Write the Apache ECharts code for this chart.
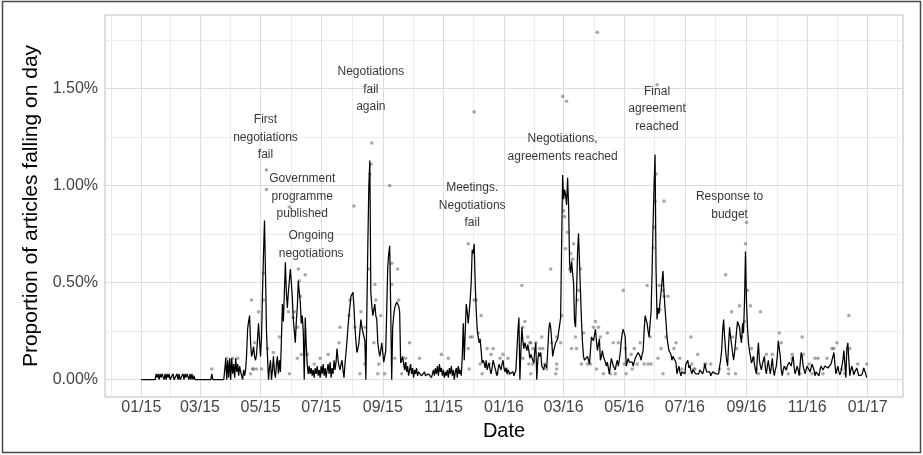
<!DOCTYPE html>
<html>
<head>
<meta charset="utf-8">
<title>Proportion of articles falling on day</title>
<script src="https://cdn.jsdelivr.net/npm/echarts@6/dist/echarts.min.js"></script>
<style>
	html,body{margin:0;padding:0;background:#fff;}
	#main{width:923px;height:455px;}
</style>
</head>
<body>
<div id="main"></div>
<script type="text/javascript">
// x values are days counted from 2015-01-01
var tickDays = [0, 59, 120, 181, 243, 304, 365, 425, 486, 547, 609, 670, 731];
var tickLabels = ['01/15', '03/15', '05/15', '07/15', '09/15', '11/15', '01/16', '03/16', '05/16', '07/16', '09/16', '11/16', '01/17'];
var yTicks = [0, 0.5, 1, 1.5];
var yTickLabels = ['0.00%', '0.50%', '1.00%', '1.50%'];

// smoothed daily share (%), [day, value]
var smoothLine = [
	[0,0],[14,0],[15,0.03],[16,0.01],[17,0.03],[18,0],[19,0.03],[20,0.01],[21,0.03],[22,0.03],[23,0],[24,0.03],[25,0],[26,0.03],[27,0.01],[28,0.03],[29,0],[31,0],[32,0.03],[33,0],[35,0],[36,0.03],[37,0],[38,0.03],[39,0],[41,0],[42,0.03],[43,0],[44,0.03],[45,0.01],[46,0.03],[47,0.03],[48,0],[49,0.03],[50,0],[51,0.03],[52,0],[53,0.02],[54,0],
	[70,0],[71,0.03],[72,0],[83,0],[84,0.05],[85,0.11],[86,0],[87,0.1],[88,0.01],[89,0.11],[90,0],[91,0.11],[92,0.03],[93,0.08],[94,0.01],[95,0.11],[96,0.04],[97,0.08],[98,0.02],[99,0.07],[100,0.04],[101,0.05],[102,0],[103,0.05],[104,0.02],
	[105,0.05],[106,0.13],[107,0.26],[108,0.3],[109,0.33],[110,0.19],[111,0.12],[112,0.14],[113,0.17],[114,0.12],[115,0.1],[116,0.13],[117,0.21],[118,0.29],[119,0.2],[120,0.12],[121,0.22],[122,0.45],[123,0.65],[124,0.82],[125,0.55],[126,0.25],[127,0.12],[128,0],[129,0.06],[130,0.1],[131,0],[132,0.05],[133,0.12],[134,0.04],[135,0.01],[136,0.08],[137,0.12],[138,0.03],[139,0.1],[140,0.04],[141,0.2],[142,0.39],[143,0.3],[144,0.45],[145,0.605],[146,0.45],[147,0.37],[148,0.45],[149,0.51],[150,0.57],[151,0.5],[152,0.42],[153,0.31],[154,0.25],[155,0.19],[156,0.3],[157,0.37],[158,0.51],[159,0.45],[160,0.4],[161,0.29],[162,0.33],[163,0.25],[164,0],[165,0.32],[166,0.18],[167,0.08],
	[168,0.03],[169,0.07],[170,0.03],[171,0.06],[172,0.02],[173,0.05],[174,0.01],[175,0.06],[176,0.03],[177,0.07],[178,0.02],[179,0.05],[180,0.01],[181,0.07],[182,0.03],[183,0.08],[184,0.02],[185,0.06],[186,0.01],[187,0.05],[188,0.08],[189,0.03],[190,0.09],[191,0.01],[192,0.06],[193,0.03],[194,0.1],[195,0.05],[196,0.09],[197,0.16],[198,0.1],[199,0.07],[200,0.05],[201,0.08],[202,0.1],[203,0.05],[204,0.01],[205,0.08],[206,0.14],[207,0.2],[208,0.27],[209,0.33],[210,0.38],[211,0.43],[212,0.44],[213,0.45],[214,0.38],[215,0.27],[216,0.2],[217,0.14],[218,0.16],[219,0.19],[220,0.25],[221,0.31],[222,0.27],[223,0.27],[224,0.26],[225,0.2],[226,0],[227,0.35],[228,0.7],[229,1.0],[230,1.13],[231,0.45],[232,0.38],[233,0.33],[234,0.36],[235,0.39],[236,0.33],[237,0.31],[238,0.19],[239,0.15],[240,0.12],[241,0.15],[242,0.19],[243,0.14],[244,0.09],[245,0.12],[246,0.15],[247,0.36],[248,0.575],[249,0.65],[250,0.69],[251,0.36],[252,0],[253,0.27],[254,0.33],[255,0.37],[256,0.38],[257,0.4],[258,0.4],[259,0.38],[260,0.35],[261,0.086],[262,0.1],[263,0.12],[264,0.08],[265,0.05],
	[266,0.09],[267,0.04],[268,0.07],[269,0.02],[270,0.05],[271,0.08],[272,0.03],[273,0.06],[274,0.01],[275,0.05],[276,0.03],[277,0.06],[278,0.02],[279,0.04],[280,0.03],[281,0.05],[282,0.02],[283,0.03],[284,0.02],[285,0.04],[286,0.02],[287,0.03],[288,0.01],[289,0.03],[290,0.02],[291,0.04],[292,0.01],[293,0.03],[294,0.05],[295,0.02],[296,0.06],[297,0.03],[298,0.07],[299,0.02],[300,0.08],[301,0.04],[302,0.06],[303,0.02],[304,0.05],[305,0.01],[306,0.04],[307,0.02],[308,0.05],[309,0.01],[310,0.06],[311,0.03],[312,0.07],[313,0.02],[314,0.05],[315,0],[316,0.04],[317,0.06],[318,0.01],[319,0.07],[320,0.03],[321,0.05],[322,0.02],
	[323,0.12],[324,0.29],[325,0.1],[326,0.25],[327,0.39],[328,0.35],[329,0.29],[330,0.35],[331,0.41],[332,0.5],[333,0.67],[334,0.65],[335,0.7],[336,0.5],[337,0.36],[338,0.26],[339,0.22],[340,0.19],[341,0.21],[342,0.15],[343,0.086],[344,0.1],[345,0.086],[346,0.06],[347,0.1],[348,0.05],[349,0.07],[350,0.086],[351,0.05],[352,0.03],[353,0.06],[354,0.1],[355,0.08],[356,0.07],[357,0.04],[358,0.02],[359,0.05],[360,0.08],[361,0.07],[362,0.05],[363,0.08],[364,0.1],[365,0.06],[366,0.04],[367,0.06],[368,0.03],[369,0.05],[370,0.04],[371,0.03],
	[372,0.03],[373,0.02],[374,0.04],[375,0.02],[376,0.03],[377,0.05],[378,0.15],[379,0.25],[380,0.32],[381,0],[382,0.15],[383,0.27],[384,0.2],[385,0.16],[386,0.19],[387,0.17],[388,0.15],[389,0.18],[390,0.15],[391,0.11],[392,0.13],[393,0.14],[394,0.1],[395,0.086],[396,0.15],[397,0.19],[398,0],[399,0.1],[400,0.14],[401,0.12],[402,0.14],[403,0.07],[404,0.06],[405,0.05],[406,0.08],[407,0.09],[408,0.06],[409,0.15],[410,0.25],[411,0.295],[412,0.27],[413,0.2],[414,0.12],[415,0.15],[416,0.17],[417,0.19],[418,0.2],[419,0.21],[420,0.22],[421,0.22],[422,0.32],[423,0.7],[424,1.055],[425,0.93],[426,0.98],[427,0.95],[428,0.9],[429,1.04],[430,0.9],[431,0.6],[432,0.55],[433,0.61],[434,0.55],[435,0.5],[436,0.3],[437,0.27],[438,0.45],[439,0.65],[440,0.755],[441,0.6],[442,0.45],[443,0.3],[444,0.19],[445,0.12],[446,0.1],[447,0.09],[448,0.1],[449,0.12],[450,0.1],[451,0.08],[452,0.15],[453,0.22],[454,0.21],[455,0.2],[456,0.23],[457,0.26],[458,0.2],[459,0.15],[460,0.18],[461,0.21],[462,0.1],[463,0.12],[464,0.15],[465,0.12],[466,0.11],[467,0.09],[468,0.07],[469,0.09],[470,0.1],[471,0.03],[472,0.07],[473,0.11],[474,0.09],[475,0.07],[476,0.06],[477,0.05],[478,0.08],[479,0.1],[480,0.07],[481,0.1],[482,0.14],[483,0.2],[484,0.24],[485,0.26],[486,0.24],[487,0.22],[488,0.07],[489,0.09],[490,0.11],[491,0.09],[492,0.086],[493,0.1],[494,0.09],[495,0.07],[496,0.09],[497,0.11],[498,0.1],[499,0.12],[500,0.14],[501,0.13],[502,0.12],[503,0.1],[504,0.13],[505,0.15],[506,0.25],[507,0.33],[508,0.31],[509,0.29],[510,0.25],[511,0.22],[512,0.29],[513,0.35],[514,0.55],[515,0.8],[516,1.0],[517,1.16],[518,0.57],[519,0.31],[520,0.37],[521,0.34],[522,0.4],[523,0.45],[524,0.505],[525,0.56],[526,0.45],[527,0.37],[528,0.3],[529,0.22],[530,0.18],[531,0.15],[532,0.16],[533,0.13],[534,0.1],[535,0.12],[536,0.13],[537,0.11],[538,0.09],[539,0.03],[540,0.05],[541,0.07],[542,0.04],[543,0.02],[544,0.04],[545,0.05],[546,0.04],[547,0.03],[548,0.08],[549,0.09],[550,0.1],[551,0.06],[552,0.075],[553,0.05],[554,0.03],[555,0.05],[556,0.04],
	[557,0.05],[558,0.03],[559,0.04],[560,0.02],[561,0.03],[562,0.05],[563,0.04],[564,0.06],[565,0.03],[566,0.05],[567,0.08],[568,0.06],[569,0.04],[570,0.05],[571,0.03],[572,0.04],[573,0.02],[574,0.02],[575,0.04],[576,0.03],[577,0.05],[578,0.03],[579,0.04],[580,0.02],[581,0.03],[582,0.07],[583,0.1],[584,0.15],[585,0.25],[586,0.31],[587,0.22],[588,0.15],[589,0.1],[590,0.07],[591,0.18],[592,0.27],[593,0.22],[594,0.18],[595,0.17],[596,0.1],[597,0.14],[598,0.19],[599,0.25],[600,0.3],[601,0.29],[602,0.27],[603,0.22],[604,0.19],[605,0.29],[606,0.24],[607,0.4],[608,0.66],[609,0.4],[610,0.27],[611,0.19],[612,0.15],[613,0.12],[614,0.086],[615,0.1],[616,0.12],[617,0.08],[618,0.05],[619,0.03],[620,0.12],[621,0.19],[622,0.1],[623,0.07],[624,0.05],[625,0.08],[626,0.1],[627,0.12],[628,0.06],[629,0.03],[630,0.07],[631,0.1],[632,0.06],[633,0.03],[634,0.07],[635,0.11],[636,0.05],[637,0.02],[638,0.05],[639,0.07],[640,0.12],[641,0.2],[642,0.16],[643,0.12],[644,0.05],[645,0.02],[646,0.05],[647,0.07],[648,0.06],[649,0.05],[650,0.07],[651,0.08],[652,0.09],[653,0.08],[654,0.07],[655,0.1],[656,0.12],[657,0.06],[658,0.03],[659,0.05],[660,0.07],[661,0.05],[662,0.02],[663,0.08],[664,0.14],[665,0.12],[666,0.07],[667,0.05],[668,0.03],[669,0.05],[670,0.07],[671,0.08],[672,0.06],[673,0.04],[674,0.06],[675,0.08],[676,0.09],[677,0.05],[678,0.02],[679,0.04],[680,0.05],[681,0.03],[682,0.02],[683,0.05],[684,0.07],[685,0.06],[686,0.05],[687,0.05],[688,0.07],[689,0.08],[690,0.07],[691,0.06],[692,0.06],[693,0.07],[694,0.08],[695,0.1],[696,0.12],[697,0.14],[698,0.08],[699,0.03],[700,0.05],[701,0.07],[702,0.04],[703,0.025],[704,0.04],[705,0.05],[706,0.1],[707,0.15],[708,0.08],[709,0.01],[710,0.16],[711,0.19],[712,0.1],[713,0.02],[714,0.05],[715,0.07],[716,0.05],[717,0.025],[718,0.04],[719,0.05],[720,0.06],[721,0.04],[722,0.02],[723,0.03],[724,0.02],[725,0.025],[726,0.04],[727,0.06],[728,0.05],[729,0.03],[730,0.01]
];

// raw daily share (%), [day, value]
var dailyPoints = [
	[71,0.055],[86,0.11],[92,0.11],[97,0.11],
	[110,0.03],[111,0.41],[112,0.055],[113,0.055],[114,0.19],[116,0.055],[118,0.35],[121,0.055],[123,0.55],[123,0.41],[126,1.08],[126,0.98],[127,0.16],[133,0.14],[139,0.22],[148,0.35],[149,0.03],[149,0.89],[153,0.32],[154,0.35],[157,0.27],[157,0.11],[158,0.57],[159,0.51],[160,0.43],[161,0.13],[165,0.54],[167,0.13],
	[174,0.08],[180,0.11],[188,0.13],[199,0.19],[200,0.27],[209,0.33],[210,0.41],[214,0.895],[215,0.27],[220,0.03],[221,0.35],[225,0.27],[225,0.08],[229,0.57],[230,1.06],[231,1.11],[232,1.22],[234,0.19],[235,0.49],[236,0.41],[238,0.03],[239,0.08],[241,0.33],[245,0.03],[250,1.0],[252,0.6],[252,0.49],[255,0.11],[258,0.57],[259,0.41],[262,0.03],[266,0.08],[266,0.11],[270,0.19],[280,0.11],[302,0.13],[309,0.11],[319,0.055],
	[329,0.7],[329,0.16],[330,0.055],[331,0.22],[333,0.22],[335,1.38],[335,0.41],[337,0.41],[339,0.24],[341,0.08],[342,0.33],[343,0.03],[348,0.16],[350,0.08],[352,0.13],[354,0.16],[358,0.03],[361,0.11],[364,0.13],[368,0.055],[369,0.11],[370,0.03],
	[383,0.485],[384,0.27],[384,0.11],[386,0.3],[389,0.22],[390,0.08],[391,0.19],[392,0.19],[392,0.03],[394,0.16],[394,0.08],[397,0.19],[401,0.16],[403,0.22],[404,0.16],[406,0.08],[408,0.055],[412,0.57],[413,0.19],[417,0.03],[418,0.22],[418,0.08],[418,0.055],[422,0.19],[423,0.33],[424,1.46],[425,0.87],[426,0.84],[427,0.675],[428,1.435],[429,0.76],[431,0.57],[432,0.65],[433,0.16],[434,0.62],[435,0.7],[437,0.22],[438,0.16],[439,0.41],[440,0.46],[442,0.57],[443,0.08],[445,0.24],[449,0.08],[452,0.08],[455,0.27],[457,0.3],[458,0.055],[459,1.79],[460,0.27],[462,0.22],[465,0.03],[469,0.24],[472,0.03],[475,0.19],[477,0.03],[480,0.19],[485,0.46],[486,0.08],[487,0.16],[488,0.03],[493,0.13],[494,0.055],[496,0.16],[499,0.08],[502,0.19],[506,0.08],[509,0.485],[510,0.08],[512,0.22],[513,0.08],
	[515,0.68],[516,0.785],[517,0.92],[518,1.06],[519,1.52],[520,0.11],[521,0.485],[522,0.36],[523,0.16],[524,0.485],[525,0.46],[525,0.03],[526,0.92],[526,0.43],[528,0.22],[530,0.43],[536,0.16],[538,0.19],[542,0.11],[544,0.055],[553,0.22],[554,0.08],
	[556,0.055],[557,0.055],[560,0.13],[567,0.08],[568,0.08],[573,0.08],[582,0.055],[588,0.54],[591,0.055],[591,0.03],[594,0.35],[595,0.22],[598,0.03],[599,0.16],[602,0.38],[604,0.22],[607,0.3],[608,0.7],[609,0.81],[610,0.46],[613,0.38],[614,0.16],[616,0.11],[619,0.055],[621,0.03],[623,0.35],[629,0.13],[635,0.13],[642,0.24],[644,0.19],[649,0.055],[651,0.03],[655,0.13],[655,0.11],[663,0.03],[665,0.22],[666,0.13],[672,0.08],[675,0.03],[678,0.11],[681,0.11],[686,0.03],[690,0.11],[695,0.16],[697,0.16],[700,0.19],[705,0.055],[708,0.03],[712,0.33],[713,0.16],[721,0.08],[730,0.08]
];

// event annotations, centred at [day, value]
var events = [
	{text: 'First\nnegotiations\nfail', day: 125, val: 1.248},
	{text: 'Government\nprogramme\npublished', day: 162, val: 0.945},
	{text: 'Ongoing\nnegotiations', day: 171, val: 0.695},
	{text: 'Negotiations\nfail\nagain', day: 231, val: 1.497},
	{text: 'Meetings.\nNegotiations\nfail', day: 333, val: 0.898},
	{text: 'Negotiations,\nagreements reached', day: 424, val: 1.196},
	{text: 'Final\nagreement\nreached', day: 519, val: 1.395},
	{text: 'Response to\nbudget', day: 592, val: 0.897}
];

var font = '"Liberation Sans", Arial, Helvetica, sans-serif';

// grid lines: majors at the ticks, minors halfway between
var minorX = [tickDays[0] - 30.5];
for (var i = 0; i < tickDays.length - 1; i++) {
	minorX.push((tickDays[i] + tickDays[i + 1]) / 2);
}
minorX.push(tickDays[tickDays.length - 1] + 29.5);
var minorY = [0.25, 0.75, 1.25, 1.75];

var gridLines = [];
minorX.forEach(function (d) {
	gridLines.push({xAxis: d, lineStyle: {color: '#ececec', width: 1, type: 'solid'}});
});
minorY.forEach(function (v) {
	gridLines.push({yAxis: v, lineStyle: {color: '#ececec', width: 1, type: 'solid'}});
});
tickDays.forEach(function (d) {
	gridLines.push({xAxis: d, lineStyle: {color: '#dedede', width: 1, type: 'solid'}});
});
yTicks.forEach(function (v) {
	gridLines.push({yAxis: v, lineStyle: {color: '#dedede', width: 1, type: 'solid'}});
});

var chart = echarts.init(document.getElementById('main'), null, {renderer: 'canvas'});
var option = {
	animation: false,
	backgroundColor: '#fff',
	textStyle: {fontFamily: font},
	grid: {
		left: 105, right: 20, top: 15, bottom: 58,
		show: true, borderColor: '#bdbdbd', borderWidth: 1, backgroundColor: 'transparent'
	},
	xAxis: {
		type: 'value',
		min: -36.5,
		max: 766.5,
		name: 'Date',
		nameLocation: 'middle',
		nameGap: 24,
		nameTextStyle: {fontSize: 20, color: '#000', fontFamily: font},
		axisLine: {show: false},
		splitLine: {show: false},
		axisTick: {show: true, length: 3, customValues: tickDays, lineStyle: {color: '#b3b3b3'}},
		axisLabel: {
			customValues: tickDays,
			margin: 3,
			fontSize: 16,
			color: '#444',
			fontFamily: font,
			formatter: function (v) { return tickLabels[tickDays.indexOf(v)]; }
		}
	},
	yAxis: {
		type: 'value',
		min: -0.0895,
		max: 1.8795,
		name: 'Proportion of articles falling on day',
		nameLocation: 'middle',
		nameGap: 47,
		nameTextStyle: {fontSize: 21, color: '#000', fontFamily: font},
		axisLine: {show: false},
		splitLine: {show: false},
		axisTick: {show: true, length: 3, customValues: yTicks, lineStyle: {color: '#b3b3b3'}},
		axisLabel: {
			customValues: yTicks,
			margin: 7,
			fontSize: 16,
			color: '#444',
			fontFamily: font,
			formatter: function (v) { return yTickLabels[yTicks.indexOf(v)]; }
		}
	},
	graphic: [{
		type: 'rect',
		shape: {x: 2.5, y: 1.5, width: 918, height: 451},
		style: {fill: 'none', stroke: '#4a4a4a', lineWidth: 1.5},
		silent: true
	}],
	series: [
		{
			name: 'daily',
			type: 'scatter',
			data: dailyPoints,
			symbolSize: 3.6,
			itemStyle: {color: 'rgba(60,60,60,0.55)'},
			z: 2,
			silent: true,
			markLine: {
				silent: true,
				z: 1,
				symbol: ['none', 'none'],
				label: {show: false},
				animation: false,
				data: gridLines
			}
		},
		{
			name: 'smoothed',
			type: 'line',
			data: smoothLine,
			showSymbol: false,
			symbol: 'none',
			lineStyle: {color: '#000', width: 1.25},
			z: 3,
			silent: true
		},
		{
			name: 'events',
			type: 'scatter',
			data: events.map(function (e) { return {name: e.text, value: [e.day, e.val]}; }),
			symbolSize: 0,
			itemStyle: {color: 'transparent'},
			z: 4,
			silent: true,
			label: {
				show: true,
				position: 'inside',
				formatter: '{b}',
				fontSize: 12,
				lineHeight: 17.5,
				color: '#000',
				fontFamily: font,
				align: 'center'
			}
		}
	]
};
chart.setOption(option);
</script>
</body>
</html>
